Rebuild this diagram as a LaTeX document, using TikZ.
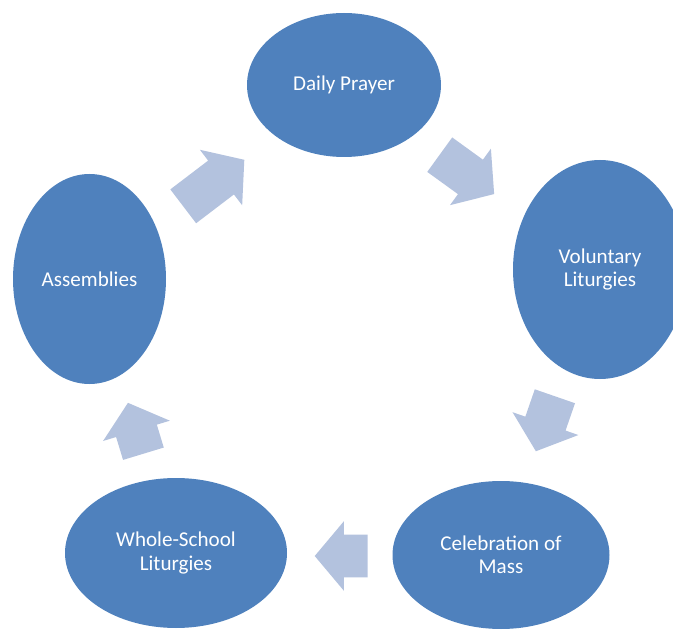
\documentclass[tikz,border=0pt]{standalone}
\usepackage{fontspec}
\setmainfont{Carlito}
\usetikzlibrary{shapes.geometric,shapes.arrows}
\definecolor{ovalblue}{HTML}{4F81BD}
\definecolor{arrowblue}{HTML}{B3C2DE}
\begin{document}
\begin{tikzpicture}[oval/.style={ellipse, fill=ovalblue, text=white, align=center, inner sep=0pt, font=\fontsize{15}{16.6}\selectfont},
    flow/.style={single arrow, fill=arrowblue, anchor=tail, inner xsep=0pt, inner ysep=0.525cm, single arrow head extend=0.34cm, single arrow tip angle=100}]
            \useasboundingbox (0,0) rectangle (16.825,15.75);

            % Ovali
            \node (D) at (8.6,13.625) [oval, minimum width=4.85cm, minimum height=3.6cm] {Daily Prayer};
            \node (V) at (15.0,9.0125) [oval, minimum width=4.35cm, minimum height=5.475cm] {Voluntary\\Liturgies};
            \node (C) at (12.525,1.875) [oval, minimum width=5.425cm, minimum height=3.7cm] {Celebration of\\Mass};
            \node (W) at (4.4,1.925) [oval, minimum width=5.55cm, minimum height=3.75cm] {Whole-School\\Liturgies};
            \node (A) at (2.2375,8.775) [oval, minimum width=3.825cm, minimum height=5.25cm] {Assemblies};

            % Frecce
            \node (AD) at (4.575,10.5875) [flow, rotate=37.3, minimum height=1.92cm] {};
            \node (DV) at (10.9875,11.8875) [flow, rotate=-35.9, minimum height=1.68cm] {};
            \node (VC) at (13.875,5.85) [flow, rotate=250.9, minimum height=1.455cm] {};
            \node (CW) at (9.2,1.85) [flow, rotate=180, minimum height=1.325cm] {};
            \node (WA) at (3.5875,4.4) [flow, rotate=106.9, minimum height=1.33cm] {};
        \end{tikzpicture}
\end{document}
